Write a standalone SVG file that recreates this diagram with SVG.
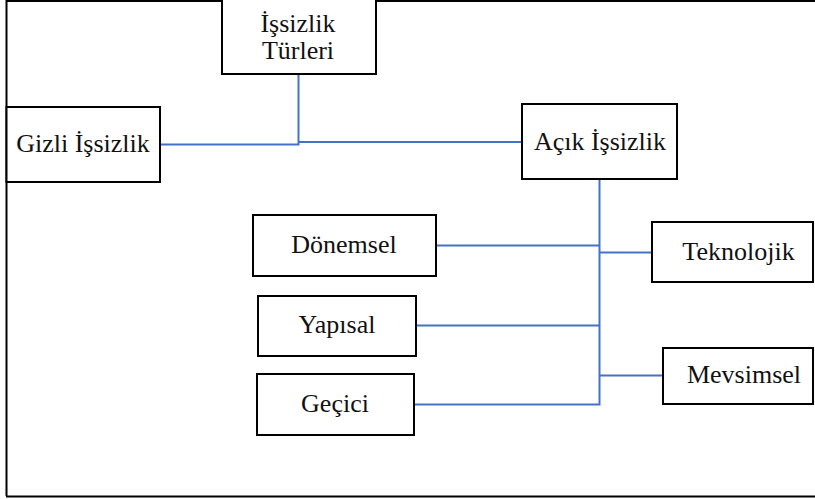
<svg xmlns="http://www.w3.org/2000/svg" width="815" height="499" viewBox="0 0 815 499">
<style>
.box{fill:#fff;stroke:#000;stroke-width:2}
.lbl{font-size:26px;fill:#111;text-anchor:middle}
.con{fill:none;stroke:#4472C4;stroke-width:2}
.frame{fill:none;stroke:#000;stroke-width:2}
</style>
<rect width="815" height="499" fill="#fff"/>
<g id="frame">
<polyline class="frame" points="815,1 6.5,1 6.5,496"/>
<line class="frame" x1="6" y1="496.5" x2="815" y2="496.5" stroke-width="2.5"/>
</g>
<g id="connectors">
<polyline class="con" points="298.5,74 298.5,144.5 160,144.5"/>
<line class="con" x1="298.5" y1="142" x2="522" y2="142"/>
<polyline class="con" points="599.5,179 599.5,404.5 414,404.5"/>
<line class="con" x1="436" y1="245.5" x2="599.5" y2="245.5"/>
<line class="con" x1="599.5" y1="252.5" x2="652" y2="252.5"/>
<line class="con" x1="416" y1="325.5" x2="599.5" y2="325.5"/>
<line class="con" x1="599.5" y1="375.5" x2="663" y2="375.5"/>
</g>
<g font-family="Liberation Serif, Times New Roman, DejaVu Serif, serif">
<g id="n-turleri">
<rect class="box" x="222" y="-2" width="154" height="76"/>
<text class="lbl" x="298" y="32">İşsizlik</text>
<text class="lbl" x="298" y="59">Türleri</text>
</g>
<g id="n-gizli">
<rect class="box" x="6.5" y="107" width="153.5" height="75"/>
<text class="lbl" x="83" y="152">Gizli  İşsizlik</text>
</g>
<g id="n-acik">
<rect class="box" x="522" y="104" width="155" height="75"/>
<text class="lbl" x="600" y="150">Açık İşsizlik</text>
</g>
<g id="n-donemsel">
<rect class="box" x="253" y="215" width="183" height="61"/>
<text class="lbl" x="344" y="253">Dönemsel</text>
</g>
<g id="n-teknolojik">
<rect class="box" x="652" y="222" width="161" height="60"/>
<text class="lbl" x="738.5" y="260">Teknolojik</text>
</g>
<g id="n-yapisal">
<rect class="box" x="258" y="296" width="158" height="60"/>
<text class="lbl" x="337" y="333">Yapısal</text>
</g>
<g id="n-mevsimsel">
<rect class="box" x="663" y="348" width="150" height="56"/>
<text class="lbl" x="744" y="383">Mevsimsel</text>
</g>
<g id="n-gecici">
<rect class="box" x="257" y="374" width="157" height="61"/>
<text class="lbl" x="335" y="412">Geçici</text>
</g>
</g>
</svg>
